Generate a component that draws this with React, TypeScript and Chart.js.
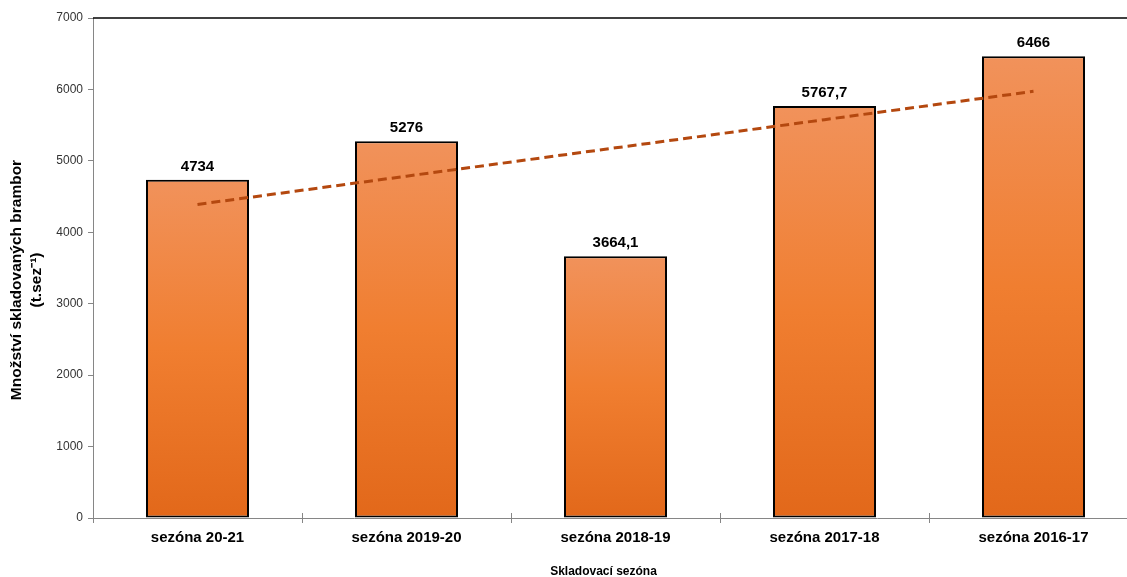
import React, { useEffect, useRef } from "react";
import { Chart, registerables } from "chart.js";

Chart.register(...registerables);

const categories = ["sezóna 20-21", "sezóna 2019-20", "sezóna 2018-19", "sezóna 2017-18", "sezóna 2016-17"];
const storedValues = [4734, 5276, 3664.1, 5767.7, 6466];
const valueLabels = ["4734", "5276", "3664,1", "5767,7", "6466"];
const trendValues = [4390, 4786, 5182, 5577, 5973];
const yMin = 0;
const yMax = 7000;
const yStep = 1000;
const yTitle = ["Množství skladovaných brambor", "(t.sez⁻¹)"];
const xTitle = "Skladovací sezóna";

const FONT = "Arial, 'Liberation Sans', sans-serif";

const labelPlugin = {
  id: "valueLabels",
  afterDatasetsDraw(chart: any) {
    const ctx = chart.ctx;
    const meta = chart.getDatasetMeta(0);
    ctx.save();
    ctx.font = `bold 15px ${FONT}`;
    ctx.fillStyle = "#000";
    ctx.textAlign = "center";
    ctx.textBaseline = "alphabetic";
    meta.data.forEach((el: any, i: number) => {
      ctx.fillText(valueLabels[i], el.x, el.y - 9);
    });
    // top frame line
    const ca = chart.chartArea;
    ctx.strokeStyle = "#000";
    ctx.lineWidth = 1.5;
    ctx.beginPath();
    ctx.moveTo(ca.left, ca.top);
    ctx.lineTo(ca.right, ca.top);
    ctx.stroke();
    // x ticks crossing upward
    const xs = chart.scales.x;
    ctx.strokeStyle = "#868686";
    ctx.lineWidth = 1;
    for (let i = 0; i <= categories.length; i++) {
      const px = Math.round(xs.getPixelForValue(i - 0.5)) + 0.5;
      ctx.beginPath();
      ctx.moveTo(px, ca.bottom - 5);
      ctx.lineTo(px, ca.bottom);
      ctx.stroke();
    }
    // x axis title
    ctx.font = `bold 12px ${FONT}`;
    ctx.fillStyle = "#000";
    ctx.textAlign = "center";
    ctx.textBaseline = "alphabetic";
    ctx.fillText(xTitle, (ca.left + ca.right) / 2 - 12, xs.bottom - 2);
    // y axis title (two rotated lines)
    const cy = (ca.top + ca.bottom) / 2 + 12;
    ctx.font = `bold 15.5px ${FONT}`;
    ctx.textBaseline = "middle";
    yTitle.forEach((line, i) => {
      ctx.save();
      ctx.translate(17 + i * 20, cy);
      ctx.rotate(-Math.PI / 2);
      ctx.fillText(line, 0, 0);
      ctx.restore();
    });
    ctx.restore();
  },
};

export default function App() {
  const ref = useRef<HTMLCanvasElement | null>(null);

  useEffect(() => {
    document.documentElement.style.overflow = "hidden";
    document.body.style.overflow = "hidden";
    const canvas = ref.current;
    if (!canvas) return;
    const chart = new Chart(canvas, {
      type: "bar",
      data: {
        labels: categories,
        datasets: [
          {
            type: "bar",
            data: storedValues,
            order: 1,
            backgroundColor: (c: any) => {
              const ch = c.chart;
              const ca = ch.chartArea;
              const ys = ch.scales && ch.scales.y;
              if (!ca || !ys || typeof c.raw !== "number") return "#F07F33";
              const top = ys.getPixelForValue(c.raw);
              const g = ch.ctx.createLinearGradient(0, top, 0, ca.bottom);
              g.addColorStop(0, "#F1925B");
              g.addColorStop(0.5, "#F07E30");
              g.addColorStop(1, "#E2681A");
              return g;
            },
            borderColor: "#000",
            borderWidth: 2,
            borderSkipped: false,
            barPercentage: 0.493,
            categoryPercentage: 1,
          } as any,
          {
            type: "line",
            data: trendValues,
            order: 0,
            borderColor: "#B4480F",
            borderWidth: 3,
            borderDash: [9, 5],
            pointRadius: 0,
            fill: false,
            tension: 0,
          } as any,
        ],
      },
      options: {
        responsive: false,
        animation: false,
        layout: { padding: { top: 18, right: 22, left: 0, bottom: 0 } },
        plugins: {
          legend: { display: false },
          tooltip: { enabled: false },
        },
        scales: {
          x: {
            type: "category",
            offset: true,
            grid: {
              display: true,
              drawOnChartArea: false,
              offset: true,
              tickLength: 5,
              color: "#868686",
            },
            border: { color: "#868686", width: 1 },
            ticks: {
              color: "#000",
              font: { family: FONT, size: 15, weight: "bold" },
              padding: 6,
              maxRotation: 0,
              autoSkip: false,
            },
            title: { display: false },
            afterFit: (s: any) => {
              s.height = 59;
            },
          },
          y: {
            min: yMin,
            max: yMax,
            ticks: {
              stepSize: yStep,
              color: "#333",
              font: { family: FONT, size: 12 },
              padding: 5,
              callback: (v: any) => String(v),
            },
            grid: {
              display: true,
              drawOnChartArea: false,
              tickLength: 5,
              color: "#868686",
            },
            border: { color: "#868686", width: 1 },
            title: { display: false },
            afterFit: (s: any) => {
              s.width = 93;
            },
          },
        },
      },
      plugins: [labelPlugin],
    } as any);
    return () => chart.destroy();
  }, []);

  return (
    <div style={{ position: "fixed", left: 0, top: 0, width: 1160, height: 577, background: "#fff" }}>
      <canvas ref={ref} width={1160} height={577} style={{ display: "block" }} />
    </div>
  );
}
